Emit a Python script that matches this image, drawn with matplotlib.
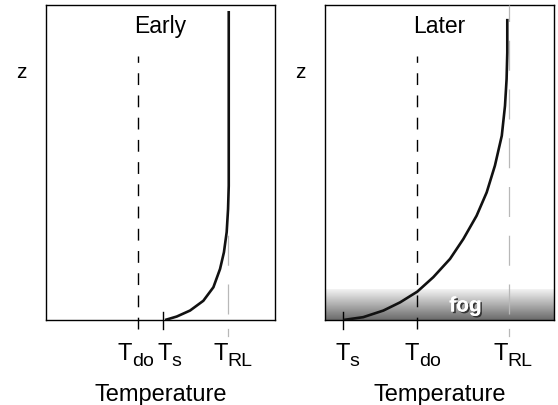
import numpy as np
import matplotlib
matplotlib.use("Agg")
from matplotlib import pyplot as plt
from matplotlib import patheffects as pe

plt.rcParams.update({'font.family': 'Liberation Sans'})

# marker temperatures (axis units 0..10)
early_marks = {'Tdo': 4.02, 'Ts': 5.11, 'TRL': 7.95}
later_marks = {'Ts': 0.79, 'Tdo': 4.02, 'TRL': 8.03}

# temperature profiles
early_T = [5.20, 5.71, 6.29, 6.87, 7.31, 7.60, 7.77, 7.89, 7.95, 7.98, 7.98]
early_z = [0.00, 0.11, 0.30, 0.61, 1.04, 1.62, 2.15, 2.79, 3.52, 4.26, 9.81]
later_T = [0.80, 1.67, 2.55, 3.28, 4.03, 4.73, 5.46, 6.04, 6.62, 7.06, 7.42, 7.72, 7.86, 7.93, 7.96, 7.96]
later_z = [0.00, 0.09, 0.30, 0.56, 0.90, 1.36, 1.94, 2.57, 3.31, 4.05, 4.90, 5.85, 6.80, 7.65, 8.49, 9.56]

fog_top = 0.98
dew_top = 8.38

W, H = 558, 406
fig = plt.figure(figsize=(W / 100, H / 100), dpi=100)

subs = {'Tdo': 'do', 'Ts': 's', 'TRL': 'RL'}


def panel(x0, title, T, z, marks, label_x, trl_top, fog=False):
    ax = fig.add_axes([x0 / W, (H - 321) / H, 229 / W, 315 / H])
    ax.set_xlim(0, 10)
    ax.set_ylim(0, 10)
    ax.set_xticks([])
    ax.set_yticks([])
    for s in ax.spines.values():
        s.set_linewidth(1.0)

    if fog:
        grad = np.linspace(0.42, 0.95, 64).reshape(-1, 1)
        ax.imshow(grad, cmap='gray', vmin=0, vmax=1, aspect='auto',
                  extent=[0, 10, 0, fog_top], origin='lower', zorder=1)
        ax.text(6.14, 0.27, 'fog', color='white', fontsize=15, fontweight='bold',
                ha='center', va='baseline', zorder=3,
                path_effects=[pe.withSimplePatchShadow(offset=(1.2, -1.2),
                                                       shadow_rgbFace='#2a2a2a', alpha=0.9),
                              pe.Normal()])

    # dewpoint line
    ax.plot([marks['Tdo']] * 2, [-0.29, dew_top], color='black', lw=1.0,
            dashes=(8.5, 7.5), clip_on=False, zorder=4)
    # residual layer temperature
    ax.plot([marks['TRL']] * 2, [0.2, trl_top], color='#b8b8b8', lw=0.9,
            dashes=(24, 15), clip_on=False, zorder=4)
    ax.plot([marks['TRL']] * 2, [-0.3, -0.5], color='#b8b8b8', lw=0.9,
            clip_on=False, zorder=4)
    # surface temperature tick
    ax.plot([marks['Ts']] * 2, [-0.29, 0.25], color='black', lw=1.0, clip_on=False, zorder=4)

    ax.plot(T, z, color='#111111', lw=1.9, solid_capstyle='butt', zorder=5)

    ax.text(5, 9.14, title, ha='center', va='baseline', fontsize=16.5)
    ax.text(-1.07, 7.71, 'z', ha='center', va='baseline', fontsize=15)

    for k, lx in label_x.items():
        ax.text(lx, -1.24, 'T', ha='left', va='baseline', fontsize=17)
        ax.annotate(subs[k], xy=(lx, -1.24), xytext=(10, -4.5), textcoords='offset points',
                    ha='left', va='baseline', fontsize=14, annotation_clip=False)
    ax.text(5, -2.54, 'Temperature', ha='center', va='baseline', fontsize=17)
    return ax


panel(46, 'Early', early_T, early_z, early_marks,
      {'Tdo': 3.14, 'Ts': 4.89, 'TRL': 7.33}, trl_top=2.98)
panel(325, 'Later', later_T, later_z, later_marks,
      {'Ts': 0.44, 'Tdo': 3.49, 'TRL': 7.34}, trl_top=10, fog=True)

plt.savefig('out.png', dpi=100)
